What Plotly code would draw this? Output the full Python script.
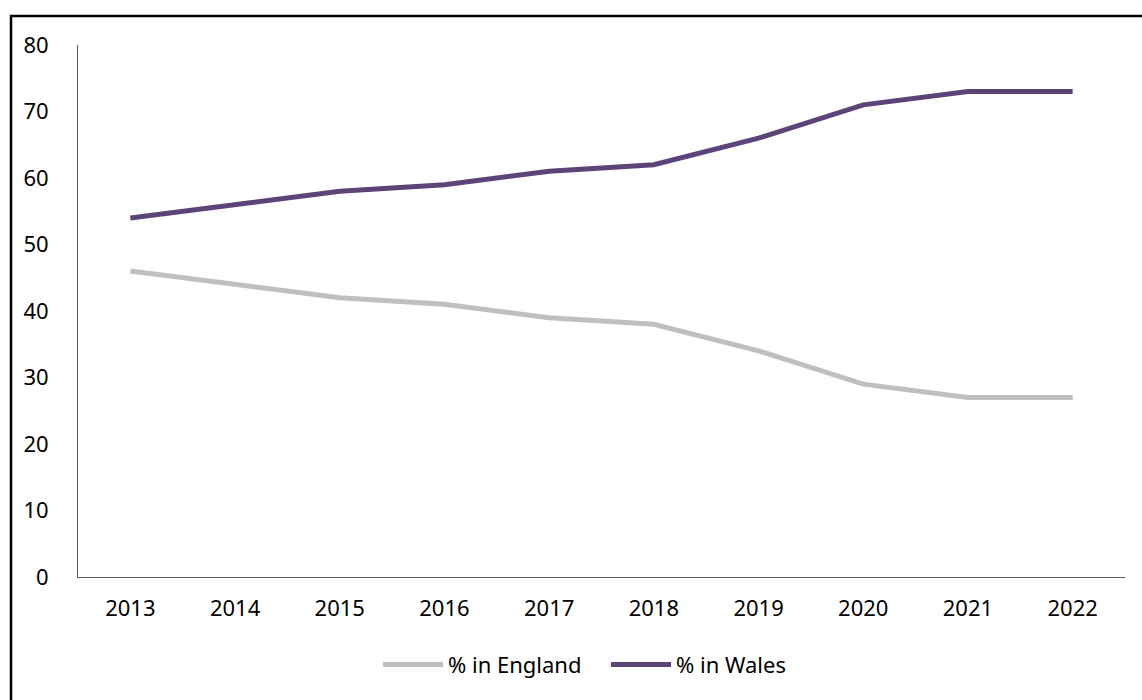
import plotly.graph_objects as go

years = ["2013", "2014", "2015", "2016", "2017", "2018", "2019", "2020", "2021", "2022"]
england = [46, 44, 42, 41, 39, 38, 34, 29, 27, 27]
wales = [54, 56, 58, 59, 61, 62, 66, 71, 73, 73]
y_ticks = [0, 10, 20, 30, 40, 50, 60, 70, 80]

FONT = "Noto Sans, Open Sans, sans-serif"

fig = go.Figure()
fig.add_trace(go.Scatter(x=years, y=england, mode="lines", name="% in England",
                         line=dict(color="#BFBFBF", width=5)))
fig.add_trace(go.Scatter(x=years, y=wales, mode="lines", name="% in Wales",
                         line=dict(color="#5C4479", width=5)))

L, R, T, B = 78, 17, 45, 123
W, H = 1142, 700
pw = W - L - R
ph = H - T - B

def px_x(p):
    return (p - L) / pw

def px_y(p):
    return (H - B - p) / ph

fig.add_shape(type="rect", xref="paper", yref="paper",
              x0=px_x(11), x1=px_x(1160), y0=px_y(720), y1=px_y(16),
              line=dict(color="black", width=2.5), fillcolor="rgba(0,0,0,0)", layer="above")

fig.update_layout(
    width=W, height=H,
    margin=dict(l=L, r=R, t=T, b=B),
    paper_bgcolor="white", plot_bgcolor="white",
    font=dict(family=FONT, size=22, color="#000000"),
    showlegend=True,
    legend=dict(orientation="h", x=px_x(378), xanchor="left", y=-0.165, yanchor="middle",
                font=dict(size=22), itemwidth=60, tracegroupgap=0,
                entrywidth=153),
    xaxis=dict(showgrid=False, showline=True, linecolor="#595959", linewidth=1,
               ticks="", zeroline=False, range=[-0.5, 9.5], tickfont=dict(size=22),
               ticklabelstandoff=12),
    yaxis=dict(showgrid=False, showline=True, linecolor="#595959", linewidth=1,
               ticks="", zeroline=False, range=[0, 80], tickvals=y_ticks,
               tickfont=dict(size=22), ticklabelstandoff=24),
)

fig.write_html("out.html", config={"displayModeBar": False},
               post_script="document.body.style.margin='0';document.body.style.overflow='hidden';")
